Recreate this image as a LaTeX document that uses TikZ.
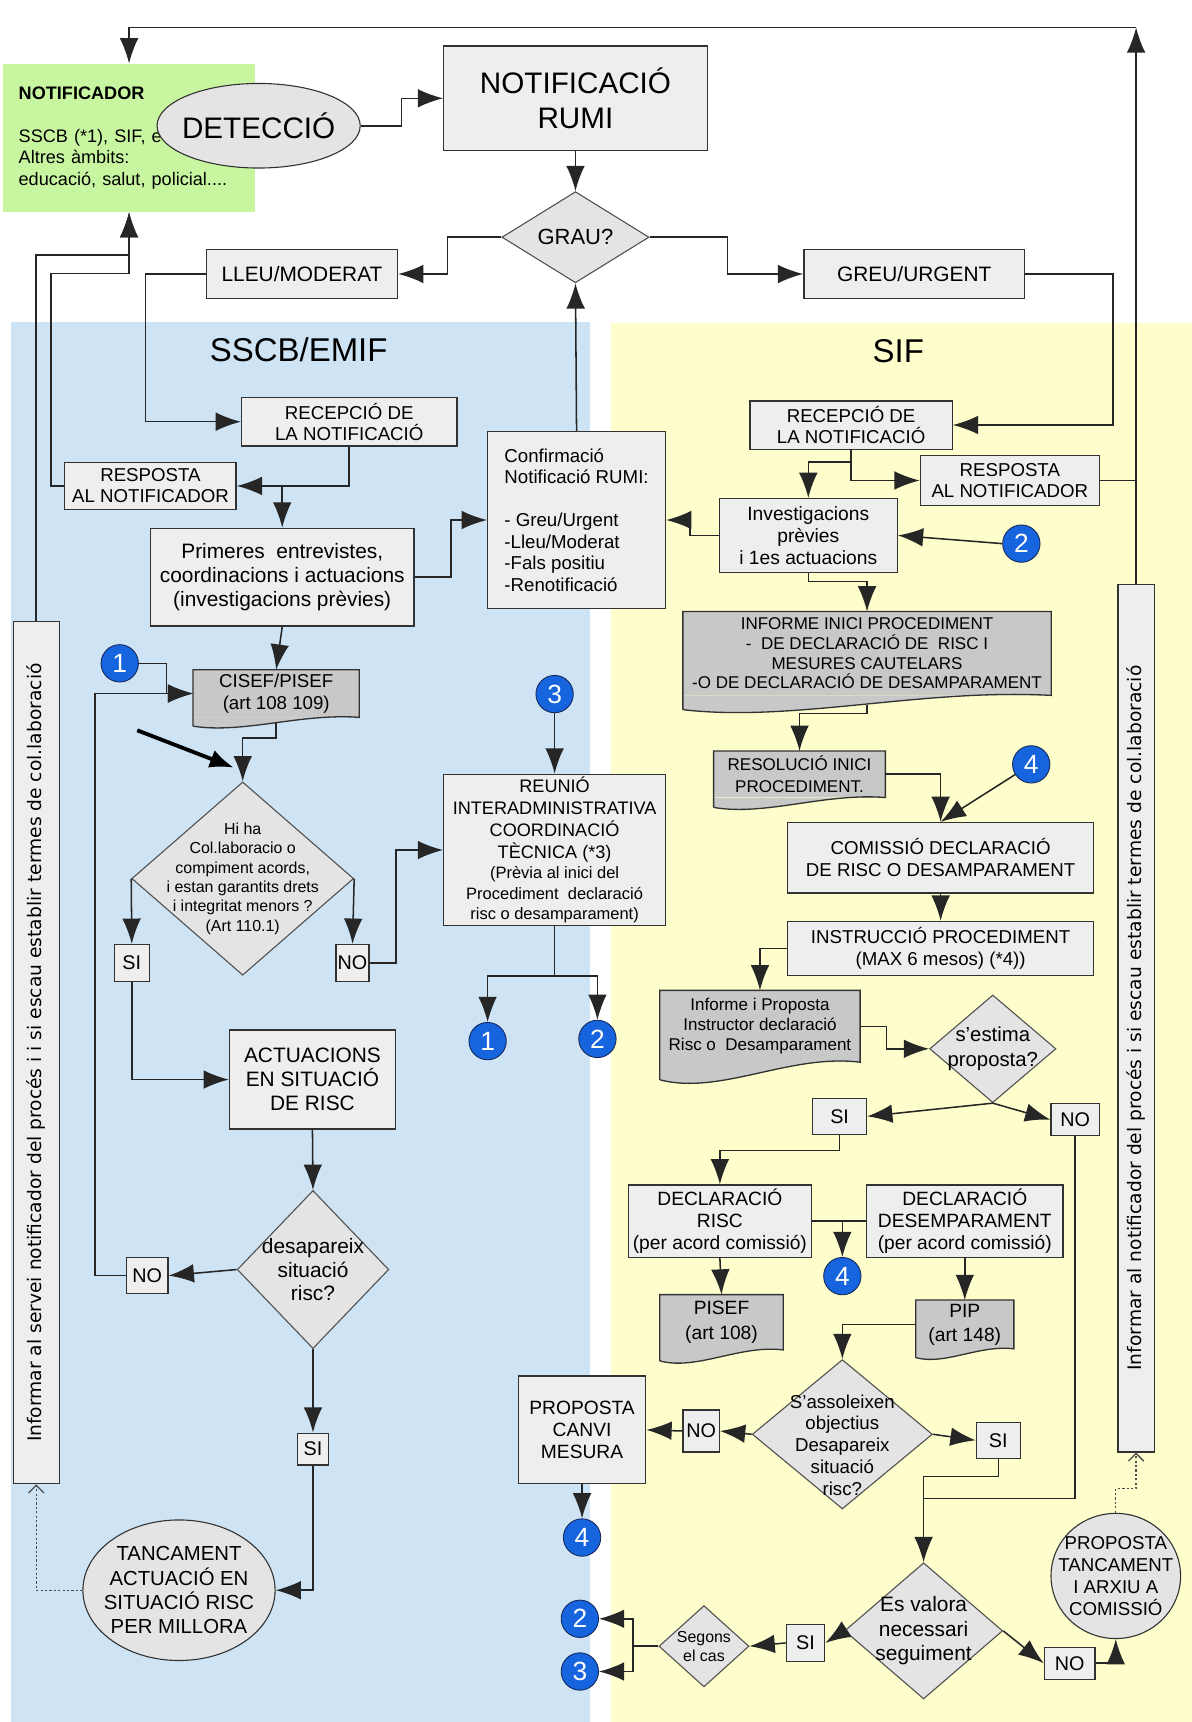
\documentclass[tikz,border=0pt]{standalone}
\usepackage{fontspec}
\setmainfont{Liberation Sans}
\newfontfamily\rotfont{DejaVu Sans}
\usepackage{xcolor}
\usepackage{tikz}
\usetikzlibrary{shapes.geometric, arrows.meta, calc}

\definecolor{bluebg}{RGB}{206,228,244}
\definecolor{yellowbg}{RGB}{254,254,204}
\definecolor{notifgreen}{RGB}{200,246,160}
\definecolor{boxgray}{RGB}{238,238,238}
\definecolor{docgray}{RGB}{200,200,200}
\definecolor{diagray}{RGB}{228,228,228}
\definecolor{edgegray}{RGB}{50,50,50}
\definecolor{numblue}{RGB}{22,100,222}
\definecolor{numedge}{RGB}{20,40,90}

\newcommand{\fsz}[2]{\fontsize{#1}{#2}\selectfont}
% wavy foot of a document box
\newcommand{\docfoot}[2]{%
  \fill[docgray] (#1.south east) .. controls ($(#1.south east)!0.35!(#1.south west)+(0,-0.5*#2)$) and ($(#1.south east)!0.7!(#1.south west)+(0,1.9*#2)$) .. ($(#1.south west)+(0,#2)$) -- (#1.south west) -- cycle;
  \draw[docedge] ($(#1.south west)+(0,#2)$) -- (#1.north west) -- (#1.north east) -- (#1.south east) .. controls ($(#1.south east)!0.35!(#1.south west)+(0,-0.5*#2)$) and ($(#1.south east)!0.7!(#1.south west)+(0,1.9*#2)$) .. ($(#1.south west)+(0,#2)$);}

\begin{document}
\begin{tikzpicture}[x=1pt, y=-1pt]
		\tikzset{
			box/.style={rectangle, draw=edgegray, fill=boxgray, line width=1.2pt, align=center, inner sep=1pt},
			docbox/.style={rectangle, fill=docgray, align=center, inner sep=1pt},
			docedge/.style={draw=edgegray, line width=1.2pt},
			dia/.style={diamond, draw=edgegray!85, fill=diagray, line width=1pt, inner sep=0pt},
			oval/.style={ellipse, draw=edgegray, fill=diagray, line width=1pt, inner sep=0pt},
			lbl/.style={align=center, inner sep=0pt},
			yn/.style={box, inner sep=0pt, font=\fsz{18}{18}},
			num/.style={circle, draw=numedge, line width=0.8pt, fill=numblue, text=white, minimum size=34pt, inner sep=0pt, font=\fsz{24}{24}},
			link/.style={draw=black!85, line width=1.4pt, -{Latex[length=23pt,width=17pt]}},
			wire/.style={draw=black!85, line width=1.4pt},
			dotlink/.style={draw=black!70, line width=1.2pt, dash pattern=on 2pt off 2pt, -{Straight Barb[length=7pt,width=14pt]}},
			pointer/.style={draw=black, line width=3.5pt, -{Latex[length=22pt,width=17pt]}}
		}
		\useasboundingbox (0,0) rectangle (1085,1568);
		\fill[bluebg] (10,293) rectangle (537,1568);
		\fill[yellowbg] (556,294) rectangle (1085,1568);

		% top
		\node[fill=notifgreen, text width=201pt, inner xsep=14pt, minimum height=135pt, align=left, font=\fsz{16.5}{19.5}] (notif) at (117.5,125.5) {\textbf{NOTIFICADOR}\\[19.5pt]SSCB (*1), SIF, e\\Altres àmbits:\\educació, salut, policial....};
		\node[oval, minimum width=185pt, minimum height=77pt] (detect) at (235.5,114.5) {};
		\node[lbl, font=\fsz{27}{27}] (detect-t) at (detect) {DETECCIÓ};
		\node[box, minimum width=240pt, minimum height=95pt, font=\fsz{27}{31}] (rumi) at (524,89.5) {NOTIFICACIÓ\\RUMI};
		\node[dia, minimum width=134pt, minimum height=83pt] (grau) at (524,216) {};
		\node[lbl, font=\fsz{20}{20}] (grau-t) at (grau) {GRAU?};
		\node[box, minimum width=174pt, minimum height=45pt, font=\fsz{19}{19}] (lleu) at (275,249.5) {LLEU/MODERAT};
		\node[box, minimum width=201pt, minimum height=45pt, font=\fsz{19}{19}] (greu) at (832.5,249.5) {GREU/URGENT};
		\node[lbl, font=\fsz{30}{30}] (sscb) at (272,318) {SSCB/EMIF};
		\node[lbl, font=\fsz{30}{30}] (sif) at (818,320) {SIF};

		% SSCB/EMIF
		\node[box, minimum width=196pt, minimum height=44pt, font=\fsz{17}{19}] (recs) at (318,384) {RECEPCIÓ DE\\LA NOTIFICACIÓ};
		\node[box, minimum width=156pt, minimum height=43pt, font=\fsz{17}{19}] (resps) at (137,442.5) {RESPOSTA\\AL NOTIFICADOR};
		\node[box, minimum width=240pt, minimum height=89pt, font=\fsz{19}{22}] (prim) at (257,525.5) {Primeres~ entrevistes,\\coordinacions i actuacions\\(investigacions prèvies)};
		\node[box, minimum width=162pt, minimum height=161pt, align=left, font=\fsz{17}{19.5}] (conf) at (525,473.5) {Confirmació\\Notificació RUMI:\\[19.5pt]- Greu/Urgent\\-Lleu/Moderat\\-Fals positiu\\-Renotificació};
		\node[docbox, minimum width=151pt, minimum height=43pt, font=\fsz{17}{20}] (cisef) at (251.5,631.5) {CISEF/PISEF\\(art 108 109)};
		\docfoot{cisef}{8}
		\node[num] (onea) at (109,604) {1};
		\node[dia, minimum width=202pt, minimum height=176pt] (hiha) at (221,800) {};
		\node[lbl, font=\fsz{14.5}{17.6}] (hiha-t) at (hiha) {Hi ha\\Col.laboracio o\\compiment acords,\\i estan garantits drets\\i integritat menors ?\\(Art 110.1)};
		\node[yn, minimum width=32pt, minimum height=34pt] (sia) at (120,877) {SI};
		\node[yn, minimum width=30pt, minimum height=34pt] (noa) at (321,877) {NO};
		\node[num] (threea) at (505,632) {3};
		\node[box, minimum width=202pt, minimum height=138pt, font=\fsz{16.5}{20}] (reunio) at (505,774) {REUNIÓ\\INTERADMINISTRATIVA\\COORDINACIÓ\\TÈCNICA (*3)\\[-1.5pt]\fsz{15}{18}(Prèvia al inici del\\[-1.5pt]\fsz{15}{18}Procediment~ declaració\\[-1.5pt]\fsz{15}{18}risc o desamparament)};
		\node[num] (oneb) at (444,948) {1};
		\node[num] (twob) at (544,946) {2};
		\node[box, minimum width=151pt, minimum height=90pt, font=\fsz{19}{22}] (act) at (284.5,983) {ACTUACIONS\\EN SITUACIÓ\\DE RISC};
		\node[dia, minimum width=138pt, minimum height=144pt] (desap) at (285,1156) {};
		\node[lbl, font=\fsz{19}{21.5}] (desap-t) at (desap) {desapareix\\situació\\risc?};
		\node[yn, minimum width=38pt, minimum height=33pt] (nob) at (134,1161.5) {NO};
		\node[yn, minimum width=28pt, minimum height=29pt] (sib) at (285,1319.5) {SI};
		\node[oval, minimum width=175pt, minimum height=128pt] (tanc) at (163,1448) {};
		\node[lbl, font=\fsz{18.5}{22}] (tanc-t) at (tanc) {TANCAMENT\\ACTUACIÓ EN\\SITUACIÓ RISC\\PER MILLORA};
		\node[box, minimum width=42pt, minimum height=785pt] (infl) at (33,958.5) {\rotatebox{90}{\rotfont\fsz{17}{17}Informar al servei notificador del procés i i si escau establir termes de col.laboració}};

		% SIF
		\node[box, minimum width=184pt, minimum height=44pt, font=\fsz{17}{19}] (recf) at (775,387) {RECEPCIÓ DE\\LA NOTIFICACIÓ};
		\node[box, minimum width=163pt, minimum height=45pt, font=\fsz{17}{19}] (respf) at (919.5,437.5) {RESPOSTA\\AL NOTIFICADOR};
		\node[box, minimum width=162pt, minimum height=67pt, font=\fsz{17.5}{20}] (inv) at (736,487.5) {Investigacions\\prèvies\\i 1es actuacions};
		\node[num] (twoa) at (930,495) {2};
		\node[docbox, minimum width=335pt, minimum height=76pt, font=\fsz{15.5}{18}] (inf) at (789.5,595) {INFORME INICI PROCEDIMENT\\-~ DE DECLARACIÓ DE~ RISC I\\MESURES CAUTELARS\\-O DE DECLARACIÓ DE DESAMPARAMENT};
		\docfoot{inf}{13}
		\node[docbox, minimum width=156pt, minimum height=42pt, font=\fsz{15.5}{20}] (resol) at (728,705) {RESOLUCIÓ INICI\\PROCEDIMENT.};
		\docfoot{resol}{9}
		\node[num] (foura) at (939,696) {4};
		\node[box, minimum width=279pt, minimum height=64pt, font=\fsz{17}{20}] (com) at (856.5,781) {COMISSIÓ DECLARACIÓ\\DE RISC O DESAMPARAMENT};
		\node[box, minimum width=279pt, minimum height=49pt, font=\fsz{17}{19.5}] (instr) at (856.5,863.5) {INSTRUCCIÓ PROCEDIMENT\\(MAX 6 mesos) (*4))};
		\node[docbox, minimum width=182pt, minimum height=65pt, font=\fsz{15.5}{18}] (prop) at (692,934.5) {Informe i Proposta\\Instructor declaració\\Risc o~ Desamparament};
		\docfoot{prop}{16}
		\node[dia, minimum width=115pt, minimum height=98pt] (estima) at (904,955) {};
		\node[lbl, font=\fsz{18.5}{22}] (estima-t) at (estima) {s'estima\\proposta?};
		\node[yn, minimum width=49pt, minimum height=33pt] (sic) at (764.5,1016.5) {SI};
		\node[yn, minimum width=44pt, minimum height=29pt] (noc) at (979,1019.5) {NO};
		\node[box, minimum width=167pt, minimum height=66pt, font=\fsz{17.5}{20}] (drisc) at (655.5,1112) {DECLARACIÓ\\RISC\\(per acord comissió)};
		\node[box, minimum width=179pt, minimum height=66pt, font=\fsz{17.5}{20}] (ddes) at (878.5,1112) {DECLARACIÓ\\DESEMPARAMENT\\(per acord comissió)};
		\node[num] (fourb) at (767,1162) {4};
		\node[docbox, minimum width=112pt, minimum height=50pt, font=\fsz{17.5}{22}] (pisef) at (657,1204) {PISEF\\(art 108)};
		\docfoot{pisef}{10}
		\node[docbox, minimum width=89pt, minimum height=44pt, font=\fsz{17.5}{22}] (pip) at (878.5,1206) {PIP\\(art 148)};
		\docfoot{pip}{8}
		\node[dia, minimum width=164pt, minimum height=136pt] (assol) at (767,1306) {};
		\node[lbl, font=\fsz{17}{20}] (assol-t) at ($(assol)+(0,10)$) {S'assoleixen\\objectius\\Desapareix\\situació\\risc?};
		\node[yn, minimum width=33pt, minimum height=38pt] (nod) at (638.5,1303) {NO};
		\node[yn, minimum width=40pt, minimum height=33pt] (sid) at (909,1311.5) {SI};
		\node[box, minimum width=116pt, minimum height=98pt, font=\fsz{17.5}{20}] (canvi) at (530,1302) {PROPOSTA\\CANVI\\MESURA};
		\node[num] (fourc) at (530,1400) {4};
		\node[dia, minimum width=144pt, minimum height=124pt] (valora) at (841,1485) {};
		\node[lbl, font=\fsz{19}{22.5}] (valora-t) at (valora) {Es valora\\necessari\\seguiment};
		\node[yn, minimum width=35pt, minimum height=34pt] (sie) at (733.5,1496) {SI};
		\node[dia, minimum width=82pt, minimum height=74pt] (segons) at (641,1499) {};
		\node[lbl, font=\fsz{14.5}{17}] (segons-t) at (segons) {Segons\\el cas};
		\node[num] (twoc) at (528,1474) {2};
		\node[num] (threeb) at (528,1522) {3};
		\node[yn, minimum width=46pt, minimum height=29pt] (noe) at (974,1514.5) {NO};
		\node[oval, minimum width=118pt, minimum height=114pt] (ptanc) at (1016,1435) {};
		\node[lbl, font=\fsz{17}{20}] (ptanc-t) at (ptanc) {PROPOSTA\\TANCAMENT\\I ARXIU A\\COMISSIÓ};
		\node[box, minimum width=33pt, minimum height=790pt] (infr) at (1034.5,927) {\rotatebox{90}{\rotfont\fsz{17}{17}Informar al notificador del procés i si escau establir termes de col.laboració}};

		% connectors, top
		\coordinate (topr) at (1034.5,25);
		\draw[link] (infr.north) -- (topr);
		\draw[link] (topr) -| (notif.north);
		\draw[wire] (respf.east) -- (respf.east -| infr.north);
		\draw[link] (detect.east) -- ++(37,0) |- (rumi.west);
		\draw[link] (rumi.south) -- (grau.north);
		\draw[link] (grau.west) -- ++(-49,0) |- (lleu.east);
		\draw[link] (grau.east) -- ++(71,0) |- (greu.west);
		\draw[link] (greu.east) -- ++(80,0) |- (recf.east);
		\draw[link] (lleu.west) -- ++(-55,0) |- (recs.west);
		\draw[link] (conf.north) -- (grau.south);

		% connectors, SSCB/EMIF
		\draw[link] (recs.south) |- (resps.east);
		\draw[link] (prim.north |- resps.east) -- (prim.north);
		\draw[link] (resps.west) -- ++(-12,0) |- ($(notif.south)+(0,56)$) -- (notif.south);
		\draw[link] (infl.north) |- ($(notif.south)+(0,39)$) -- (notif.south);
		\draw[link] (prim.east) -- ++(33,0) |- (conf.west);
		\draw[link] (prim.south) -- (cisef.north);
		\draw[link] (onea.east) -- ++(25,0) |- (cisef.west);
		\draw[link] (nob.west) -- ++(-28,0) |- (cisef.west);
		\draw[link] ($(cisef.south)+(0,5)$) -- ++(0,14) -| (hiha.north);
		\coordinate (markfrom) at (125,665);
		\coordinate (markto) at (213,699);
		\draw[pointer] (markfrom) -- (markto);
		\draw[link] (hiha.west) -- (sia.north);
		\draw[link] (hiha.east) -- (noa.north);
		\draw[link] (noa.east) -- ++(24,0) |- (reunio.west);
		\draw[link] (threea.south) -- (reunio.north);
		\draw[link] (reunio.south) -- ++(0,45) -| (oneb.north);
		\draw[link] (reunio.south) -- ++(0,45) -| (twob.north);
		\draw[link] (sia.south) |- (act.west);
		\draw[link] (act.south) -- (desap.north);
		\draw[link] (desap.west) -- (nob.east);
		\draw[link] (desap.south) -- (sib.north);
		\draw[link] (sib.south) |- (tanc.east);
		\draw[dotlink] (tanc.west) -| (infl.south);

		% connectors, SIF
		\draw[link] (recf.south) |- (respf.west);
		\draw[link] ($(recf.south)+(0,11)$) -| (inv.north);
		\draw[link] (inv.west) -- ++(-26,0) |- (conf.east);
		\draw[link] (twoa.west) -- (inv.east);
		\draw[link] (inv.south) -- ++(0,8) -| (inf.north);
		\draw[link] ($(inf.south)+(0,8.5)$) -- ++(0,8) -| (resol.north);
		\draw[link] (resol.east) -| (com.north);
		\draw[link] (foura) -- (com.north);
		\draw[link] (com.south) -- (instr.north);
		\draw[link] (instr.west) -| (prop.north);
		\draw[link] (prop.east) -- ++(24,0) |- (estima.west);
		\draw[link] (estima.south) -- (sic.east);
		\draw[link] (estima.south) -- (noc.west);
		\draw[link] (sic.south) -- ++(0,14) -| (drisc.north);
		\draw[wire] (drisc.east) -- (ddes.west);
		\draw[link] (fourb.north |- drisc.east) -- (fourb.north);
		\draw[link] (drisc.south) -- (pisef.north);
		\draw[link] (ddes.south) -- (pip.north);
		\draw[link] (pip.west) -| (assol.north);
		\draw[link] (assol.west) -- (nod.east);
		\draw[link] (nod.west) -- (canvi.east);
		\draw[link] (canvi.south) -- (fourc.north);
		\draw[link] (assol.east) -- (sid.west);
		\draw[link] (sid.south) -- ++(0,16) -| (valora.north);
		\draw[wire] (noc.south) |- ($(valora.north)+(0,-58)$);
		\draw[link] (valora.west) -- (sie.east);
		\draw[link] (sie.west) -- (segons.east);
		\draw[link] (segons.west) -- ++(-23,0) |- (twoc.east);
		\draw[link] (segons.west) -- ++(-23,0) |- (threeb.east);
		\draw[link] (valora.east) -- (noe.west);
		\draw[link] (noe.east) -| (ptanc.south);
		\draw[dotlink] (ptanc.north) -- ++(0,-22) -| (infr.south);
	\end{tikzpicture}
\end{document}
